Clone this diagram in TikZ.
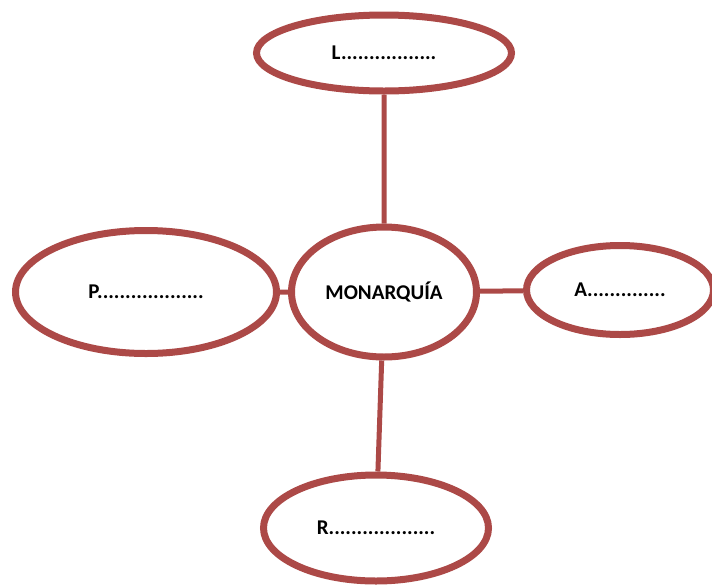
\documentclass[tikz,border=0pt]{standalone}
\usepackage{fontspec}
\setmainfont{Carlito}
\usetikzlibrary{shapes.geometric,shadows}

\definecolor{borde}{RGB}{172,73,71}

\tikzset{
  campo/.style={ellipse,draw=borde,line width=7pt,fill=white,
    drop shadow={opacity=0.18,shadow xshift=1.5pt,shadow yshift=-2.5pt},
    font=\fontsize{21}{25}\selectfont\bfseries,inner sep=0pt},
  enlace/.style={draw=borde,line width=5pt}
}

\begin{document}
\begin{tikzpicture}[x=1pt,y=-1pt]
    \useasboundingbox (0,0) rectangle (712,587);
    % mapa de la monarquia
    \node[campo,minimum width=185pt,minimum height=130pt] (mon) at (384,292) {MONARQUÍA};
    \node[campo,minimum width=255pt,minimum height=76pt] (ley) at (384,53) {L.................};
    \node[campo,minimum width=261pt,minimum height=123pt] (pod) at (146,292) {P...................};
    \node[campo,minimum width=187pt,minimum height=89pt] (aut) at (620,290) {A..............};
    \node[campo,minimum width=225pt,minimum height=106pt] (rey) at (376,528) {R...................};
    \draw[enlace] (mon) -- (ley) (mon) -- (pod) (mon) -- (aut) (mon) -- (rey);
\end{tikzpicture}
\end{document}
